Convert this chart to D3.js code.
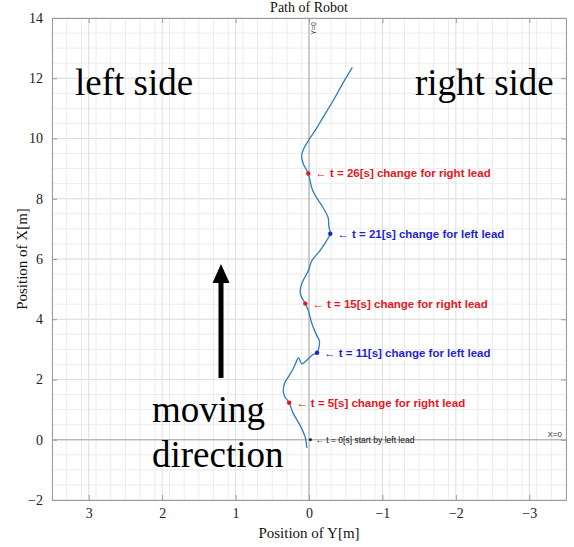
<!DOCTYPE html>
<html>
<head>
<meta charset="utf-8">
<script src="https://cdn.jsdelivr.net/npm/d3@7"></script>
<style>
  html, body { margin: 0; padding: 0; background: #fff; }
  svg { display: block; }
</style>
</head>
<body>
<svg id="chart" width="574" height="547"></svg>
<script>
// ---- data ----
// path of the robot: lateral position Y[m] and forward position X[m]
const pathY = [0.03, 0.05, 0.12, 0.22, 0.27, 0.33, 0.35, 0.33, 0.27, 0.23, 0.19, 0.16, 0.14, 0.10, 0.05, 0.01, -0.05, -0.11, -0.14, -0.14, -0.10, -0.04, 0.01, 0.05, 0.11, 0.12, 0.10, 0.01, -0.04, -0.15, -0.24, -0.29, -0.27, -0.26, -0.19, -0.05, 0.01, 0.08, 0.10, 0.07, -0.01, -0.10, -0.18, -0.33, -0.46, -0.59];
const pathX = [-0.27, 0.07, 0.47, 0.90, 1.23, 1.43, 1.63, 1.89, 2.13, 2.29, 2.49, 2.66, 2.72, 2.52, 2.59, 2.69, 2.82, 2.89, 3.12, 3.29, 3.49, 3.85, 4.29, 4.52, 4.78, 4.95, 5.18, 5.61, 5.95, 6.28, 6.61, 6.84, 7.08, 7.38, 7.71, 8.27, 8.84, 9.17, 9.44, 9.67, 10.00, 10.33, 10.66, 11.26, 11.83, 12.36];

// lead-change events
const eventT = [0, 5, 11, 15, 21, 26];
const eventY = [-0.02, 0.27, -0.11, 0.05, -0.29, 0.01];
const eventX = [0.0, 1.23, 2.89, 4.52, 6.84, 8.84];
const eventKind = ["start", "right", "left", "right", "left", "right"];
const eventLabel = [
  "\u2190 t = 0[s] start by left lead",
  "\u2190 t = 5[s] change for right lead",
  "\u2190 t = 11[s] change for left lead",
  "\u2190 t = 15[s] change for right lead",
  "\u2190 t = 21[s] change for left lead",
  "\u2190 t = 26[s] change for right lead"
];

const xTicks = [3, 2, 1, 0, -1, -2, -3];
const yTicks = [-2, 0, 2, 4, 6, 8, 10, 12, 14];
const xDomain = [3.5, -3.5];
const yDomain = [-2, 14];

// ---- layout ----
const svg = d3.select("#chart");
const L = 52, R = 566, T = 18, B = 500;
const x = d3.scaleLinear().domain(xDomain).range([L, R]);
const y = d3.scaleLinear().domain(yDomain).range([B, T]);
const serif = "'Liberation Serif', 'Times New Roman', serif";
const sans = "'Liberation Sans', Arial, Helvetica, sans-serif";

// background
svg.append("rect").attr("x", L).attr("y", T).attr("width", R - L).attr("height", B - T).attr("fill", "#fff");

// minor grid
const gGrid = svg.append("g");
const xMinor = d3.range(-35, 36, 2).map(v => v / 10);
const yMinor = d3.range(-4, 29, 1).map(v => v / 2);
gGrid.selectAll(".xm").data(xMinor).join("line")
  .attr("x1", d => x(d)).attr("x2", d => x(d)).attr("y1", T).attr("y2", B)
  .attr("stroke", "#ececec").attr("stroke-width", 1);
gGrid.selectAll(".ym").data(yMinor).join("line")
  .attr("x1", L).attr("x2", R).attr("y1", d => y(d)).attr("y2", d => y(d))
  .attr("stroke", "#ececec").attr("stroke-width", 1);
// major grid
gGrid.selectAll(".xM").data(xTicks).join("line")
  .attr("x1", d => x(d)).attr("x2", d => x(d)).attr("y1", T).attr("y2", B)
  .attr("stroke", "#dedede").attr("stroke-width", 1);
gGrid.selectAll(".yM").data(yTicks).join("line")
  .attr("x1", L).attr("x2", R).attr("y1", d => y(d)).attr("y2", d => y(d))
  .attr("stroke", "#dedede").attr("stroke-width", 1);

// zero lines
svg.append("line").attr("x1", x(0)).attr("x2", x(0)).attr("y1", T).attr("y2", B)
  .attr("stroke", "#a9a9a9").attr("stroke-width", 1);
svg.append("line").attr("x1", L).attr("x2", R).attr("y1", y(0)).attr("y2", y(0))
  .attr("stroke", "#a9a9a9").attr("stroke-width", 1);
svg.append("text").attr("transform", `translate(${x(0) + 7},${T + 4}) rotate(-90)`)
  .attr("text-anchor", "end").attr("font-family", sans).attr("font-size", 7).attr("fill", "#333")
  .text("Y=0");
svg.append("text").attr("x", R - 4).attr("y", y(0) - 3)
  .attr("text-anchor", "end").attr("font-family", sans).attr("font-size", 8).attr("fill", "#333")
  .text("X=0");

// axes
const axisColor = "#9a9a9a";
function styleAxis(g) {
  g.select(".domain").attr("stroke", axisColor);
  g.selectAll(".tick line").attr("stroke", axisColor);
  g.selectAll(".tick text").attr("font-family", serif).attr("font-size", 14).attr("fill", "#222");
}
svg.append("g").attr("transform", `translate(0,${B})`)
  .call(d3.axisBottom(x).tickValues(xTicks).tickSizeInner(-5).tickSizeOuter(0).tickPadding(8).tickFormat(d3.format("d")))
  .call(styleAxis);
svg.append("g").attr("transform", `translate(0,${T})`)
  .call(d3.axisTop(x).tickValues(xTicks).tickSizeInner(-5).tickSizeOuter(0).tickFormat(""))
  .call(styleAxis);
svg.append("g").attr("transform", `translate(${L},0)`)
  .call(d3.axisLeft(y).tickValues(yTicks).tickSizeInner(-5).tickSizeOuter(0).tickPadding(9).tickFormat(d3.format("d")))
  .call(styleAxis);
svg.append("g").attr("transform", `translate(${R},0)`)
  .call(d3.axisRight(y).tickValues(yTicks).tickSizeInner(-5).tickSizeOuter(0).tickFormat(""))
  .call(styleAxis);

// titles
svg.append("text").attr("x", x(0)).attr("y", 12).attr("text-anchor", "middle")
  .attr("font-family", serif).attr("font-size", 14).attr("fill", "#111").text("Path of Robot");
svg.append("text").attr("x", x(0)).attr("y", 538).attr("text-anchor", "middle")
  .attr("font-family", serif).attr("font-size", 15).attr("fill", "#111").text("Position of Y[m]");
svg.append("text").attr("transform", `translate(27,${(T + B) / 2}) rotate(-90)`).attr("text-anchor", "middle")
  .attr("font-family", serif).attr("font-size", 15).attr("fill", "#111").text("Position of X[m]");

// big annotations
const big = { "font-family": serif, "font-size": 37, "fill": "#000" };
function bigText(tx, ty, s) {
  const t = svg.append("text").attr("x", tx).attr("y", ty).text(s);
  Object.entries(big).forEach(([k, v]) => t.attr(k, v));
}
bigText(75, 95, "left side");
bigText(415, 95, "right side");
bigText(152, 422, "moving");
bigText(152, 467, "direction");

// moving direction arrow
svg.append("rect").attr("x", 218.5).attr("y", 280).attr("width", 5).attr("height", 98).attr("fill", "#000");
svg.append("path").attr("d", "M221,264 L229.5,283 L212.5,283 Z").attr("fill", "#000");

// path
const line = d3.line().x((d, i) => x(pathY[i])).y((d, i) => y(pathX[i])).curve(d3.curveCatmullRom.alpha(0.5));
svg.append("path").datum(pathY).attr("d", line)
  .attr("fill", "none").attr("stroke", "#2f7bc0").attr("stroke-width", 1.3);

// events
const kindColor = { start: "#111", right: "#e8161e", left: "#1f1fd6" };
const ev = svg.append("g").selectAll("g").data(eventT).join("g");
ev.append("circle")
  .attr("cx", (d, i) => x(eventY[i])).attr("cy", (d, i) => y(eventX[i]))
  .attr("r", (d, i) => eventKind[i] === "start" ? 1.4 : 2.2)
  .attr("fill", (d, i) => kindColor[eventKind[i]]);
ev.append("text")
  .attr("x", (d, i) => x(eventY[i]) + (eventKind[i] === "start" ? 5 : 7))
  .attr("y", (d, i) => y(eventX[i]))
  .attr("dy", "0.35em")
  .attr("font-family", sans)
  .attr("font-size", (d, i) => eventKind[i] === "start" ? 8.5 : 11.5)
  .attr("font-weight", (d, i) => eventKind[i] === "start" ? "normal" : "bold")
  .attr("fill", (d, i) => kindColor[eventKind[i]])
  .text((d, i) => eventLabel[i]);
</script>
</body>
</html>
